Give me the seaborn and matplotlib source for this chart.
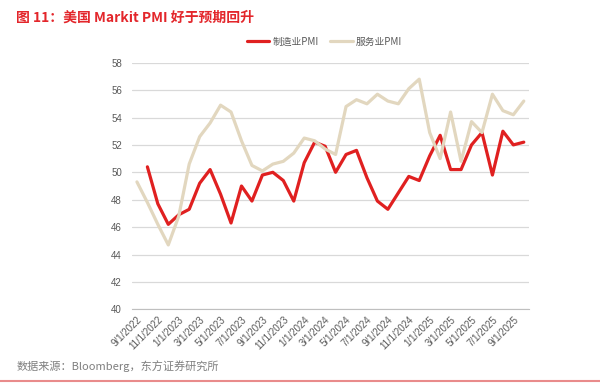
import pandas as pd
import matplotlib.pyplot as plt
import seaborn as sns

months = pd.date_range("2022-09-01", periods=38, freq="MS")
month_labels = [f"{d.month}/1/{d.year}" for d in months]

manufacturing_pmi = [None, 50.4, 47.7, 46.2, 46.9, 47.3, 49.2, 50.2, 48.4, 46.3,
                     49.0, 47.9, 49.8, 50.0, 49.4, 47.9, 50.7, 52.2, 51.9, 50.0,
                     51.3, 51.6, 49.6, 47.9, 47.3, 48.5, 49.7, 49.4, 51.2, 52.7,
                     50.2, 50.2, 52.0, 52.9, 49.8, 53.0, 52.0, 52.2]
services_pmi = [49.3, 47.8, 46.2, 44.7, 46.8, 50.6, 52.6, 53.6, 54.9, 54.4,
                52.3, 50.5, 50.1, 50.6, 50.8, 51.4, 52.5, 52.3, 51.7, 51.3,
                54.8, 55.3, 55.0, 55.7, 55.2, 55.0, 56.1, 56.8, 52.9, 51.0,
                54.4, 50.8, 53.7, 52.9, 55.7, 54.5, 54.2, 55.2]

data = pd.DataFrame({
    "idx": range(len(months)),
    "制造业PMI": manufacturing_pmi,
    "服务业PMI": services_pmi,
})
data = data.astype({"制造业PMI": float})

sns.set_theme(style="white")
plt.rcParams["font.family"] = ["Noto Sans CJK SC", "DejaVu Sans"]

fig = plt.figure(figsize=(6, 3.83), dpi=100)
ax = fig.add_axes([0.2195, 0.1924, 0.6622, 0.6439])

sns.lineplot(data=data, x="idx", y="制造业PMI", ax=ax, color="#e02020",
             linewidth=2.3, label="制造业PMI")
sns.lineplot(data=data, x="idx", y="服务业PMI", ax=ax, color="#e2d7bf",
             linewidth=2.3, label="服务业PMI")

ax.set_xlim(-0.5, len(months) - 0.5)
ax.set_ylim(40, 58)
ax.set_yticks(range(40, 59, 2))
ax.grid(axis="y", color="#d9d9d9", linewidth=0.9)
ax.set_axisbelow(True)

tick_font = ["Liberation Sans", "DejaVu Sans"]
ax.set_xticks(range(0, len(months), 2))
ax.set_xticklabels(month_labels[::2], rotation=45, ha="right",
                   rotation_mode="anchor", fontsize=7, color="#595959",
                   family=tick_font)
ax.set_xticks([i - 0.5 for i in range(0, len(months) + 1, 2)], minor=True)
ax.tick_params(axis="x", which="major", length=0, pad=4)
ax.tick_params(axis="x", which="minor", length=3, color="#bfbfbf", width=0.8)
ax.tick_params(axis="y", length=0, labelsize=7, labelcolor="#595959", pad=7)
for lbl in ax.get_yticklabels():
    lbl.set_family(tick_font)
ax.set_xlabel("")
ax.set_ylabel("")

for side in ["top", "right", "left"]:
    ax.spines[side].set_visible(False)
ax.spines["bottom"].set_color("#bfbfbf")
ax.spines["bottom"].set_linewidth(0.8)

ax.legend(loc="lower center", bbox_to_anchor=(0.485, 1.03), ncol=2, frameon=False,
          fontsize=7, handlelength=2.3, handletextpad=0.3, columnspacing=1.2,
          labelcolor="#595959")

fig.text(0.027, 0.973, "图 11：美国 Markit PMI 好于预期回升", color="#e3262b",
         fontsize=10, fontweight="bold", va="top", ha="left")
fig.text(0.027, 0.045, "数据来源：Bloomberg，东方证券研究所", color="#7f7f7f",
         fontsize=8, va="center", ha="left")
fig.add_artist(plt.Line2D([0, 1], [0.004, 0.004], color="#e98b8b", linewidth=1.5,
                          transform=fig.transFigure))

fig.savefig("out.png", dpi=100)
